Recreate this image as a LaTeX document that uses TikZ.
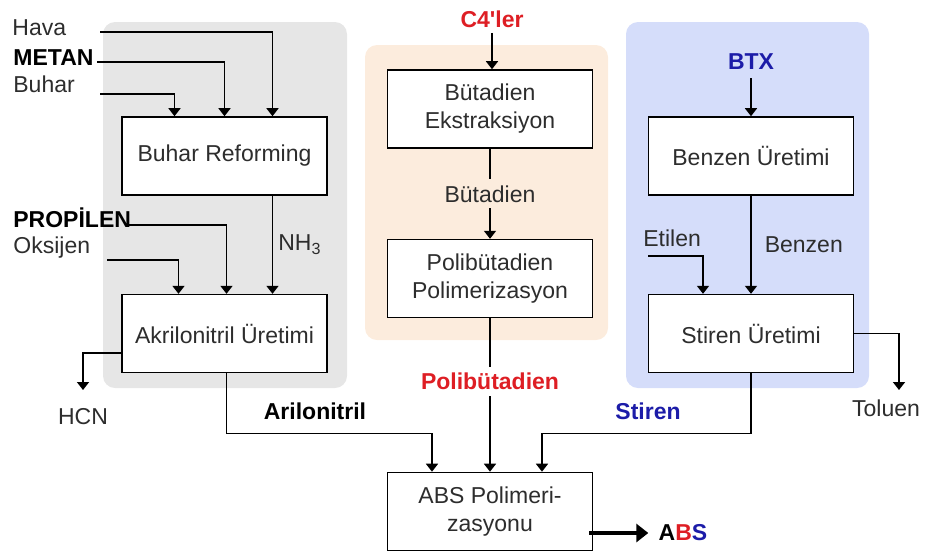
\documentclass[tikz,border=0pt]{standalone}
\usepackage{fontspec}
\setmainfont{Liberation Sans}
\usetikzlibrary{positioning, arrows.meta}

\definecolor{graybg}{RGB}{230,230,230}
\definecolor{peachbg}{RGB}{252,236,221}
\definecolor{bluebg}{RGB}{213,221,250}
\definecolor{redtxt}{RGB}{222,30,36}
\definecolor{bluetxt}{RGB}{28,28,168}
\definecolor{txt}{RGB}{45,45,45}

\tikzset{
  proc/.style={draw, line width=0.8pt, fill=white, minimum width=102.5pt, minimum height=39pt,
    align=center, text=txt, font=\fontsize{11.5}{14}\selectfont},
  lbl/.style={inner sep=0pt, text=txt, font=\fontsize{11.5}{14}\selectfont},
  boldlbl/.style={inner sep=0pt, text=black, font=\fontsize{11.5}{14}\selectfont\bfseries},
  flow/.style={line width=0.8pt, -{Triangle[width=6pt,length=4pt]}},
  panel/.style={rounded corners=6pt},
}

\begin{document}
\begin{tikzpicture}[x=0.5pt, y=-0.5pt]
  \useasboundingbox (0,0) rectangle (927,554);

  % background panels
  \fill[graybg, panel] (103,22) rectangle (347,388);
  \fill[peachbg, panel] (365,45) rectangle (608,340);
  \fill[bluebg, panel] (626,22) rectangle (869,388);

  % process boxes
  \node[proc] (br) at (224.5,156) {Buhar Reforming};
  \node[proc, below=49pt of br] (ak) {Akrilonitril Üretimi};
  \node[proc] (be) at (490,109) {Bütadien\\Ekstraksiyon};
  \node[proc, below=45pt of be] (pp) {Polibütadien\\Polimerizasyon};
  \node[proc] (bz) at (751,156) {Benzen Üretimi};
  \node[proc, below=49pt of bz] (st) {Stiren Üretimi};
  \node[proc] (abs) at (490,511.5) {ABS Polimeri-\\zasyonu};

  % feeds, left
  \node[lbl, anchor=base west] (hava) at (12,35) {Hava};
  \node[boldlbl, anchor=base west] (metan) at (13,65) {METAN};
  \node[lbl, anchor=base west] (buhar) at (13,92) {Buhar};
  \node[boldlbl, anchor=base west] (propilen) at (13,227) {PROPİLEN};
  \node[lbl, anchor=base west] (oksijen) at (13,253) {Oksijen};
  \coordinate (havain) at (100,32);
  \coordinate (metanin) at (97,62);
  \coordinate (buharin) at (100,94);
  \coordinate (propin) at (127,225);
  \coordinate (oksin) at (107,260);

  \draw[flow] (havain) -| ([xshift=24pt]br.north);
  \draw[flow] (metanin) -| (br.north);
  \draw[flow] (buharin) -| ([xshift=-25pt]br.north);
  \draw[flow] ([xshift=24pt]br.south) -- node[lbl, right=2.5pt] (nh3) {NH\textsubscript{3}} ([xshift=24pt]ak.north);
  \draw[flow] (propin) -| ([xshift=1pt]ak.north);
  \draw[flow] (oksin) -| ([xshift=-23pt]ak.north);

  \node[lbl, anchor=north, inner ysep=9pt] (hcn) at (83,390) {HCN};
  \draw[flow] ([yshift=-9.75pt]ak.west) -| (hcn.north);

  % middle column
  \node[boldlbl, text=redtxt, inner ysep=2.5pt] (c4) at (492,19) {C4\textquotesingle ler};
  \draw[flow] (c4.south) -- (c4.south |- be.north);
  \draw[flow] (be) -- node[lbl, fill=peachbg, inner sep=3pt] (butlbl) {Bütadien} (pp);

  % right column
  \node[boldlbl, text=bluetxt, inner ysep=4pt] (btx) at (751,62) {BTX};
  \draw[flow] (btx) -- (bz);
  \draw[flow] (bz) -- node[lbl, right=6.5pt] (benzlbl) {Benzen} (st);
  \node[lbl, anchor=base west] (etilen) at (643,246) {Etilen};
  \coordinate (etilin) at (648,256);
  \draw[flow] (etilin) -| ([xshift=-24pt]st.north);
  \coordinate (tolend) at (899,390);
  \node[lbl] (toluen) at (886,408) {Toluen};
  \draw[flow] (st.east) -| (tolend);

  % into ABS
  \draw[flow] ([xshift=1pt]ak.south) -- ++(0,-30pt) -| ([xshift=-29pt]abs.north);
  \draw[flow] (st.south) -- ++(0,-30pt) -| ([xshift=26pt]abs.north);
  \draw[flow] (pp) -- node[boldlbl, text=redtxt, fill=white, inner sep=3pt, pos=0.41] (polilbl) {Polibütadien} (abs);
  \node[boldlbl, anchor=base] (arilbl) at (315,419) {Arilonitril};
  \node[boldlbl, text=bluetxt, anchor=base] (stlbl) at (648,419) {Stiren};

  % product
  \node[boldlbl] (absprod) at (683,533) {A\textcolor{redtxt}{B}\textcolor{bluetxt}{S}};
  \draw[line width=2pt, -{Triangle[width=9pt,length=6pt]}, shorten >=5pt]
    ([xshift=-2pt,yshift=-10.75pt]abs.east) -- (absprod.west);
\end{tikzpicture}
\end{document}
